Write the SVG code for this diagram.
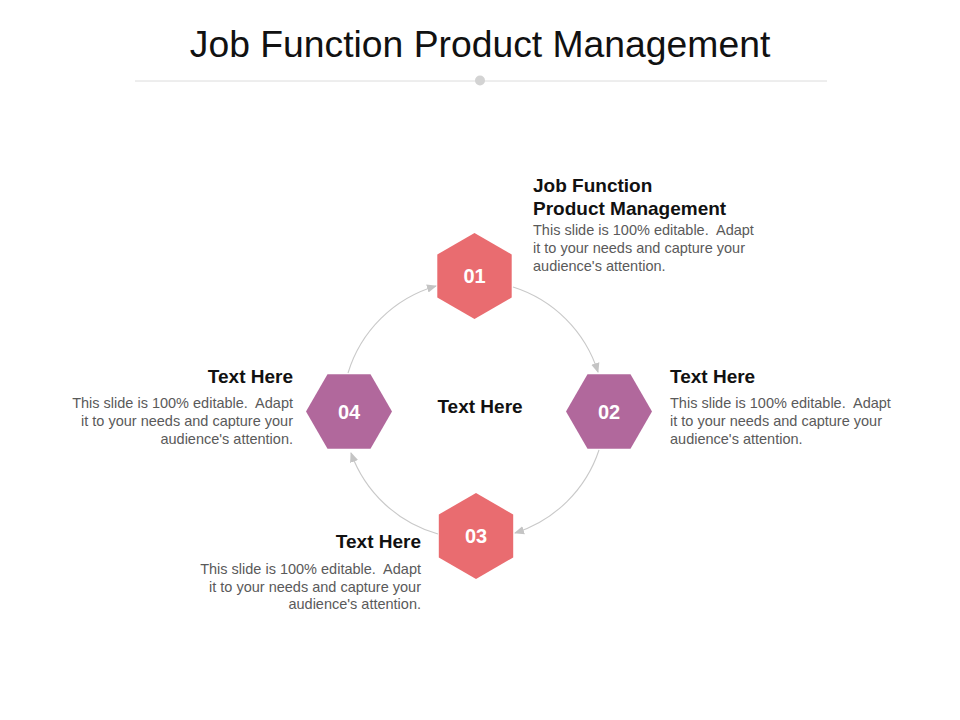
<svg xmlns="http://www.w3.org/2000/svg" width="960" height="720" viewBox="0 0 960 720">
<style>
.title{font-family:"Liberation Sans",Arial,sans-serif;font-size:37.3px;fill:#111;}
.head{font-family:"Liberation Sans",Arial,sans-serif;font-size:19px;font-weight:bold;fill:#111;}
.body{font-family:"Liberation Sans",Arial,sans-serif;font-size:14.5px;fill:#5a5a5a;}
.num{font-family:"Liberation Sans",Arial,sans-serif;font-size:20px;font-weight:bold;fill:#ffffff;text-anchor:middle;}
.coral{fill:#E96C70;}
.purple{fill:#B1689C;}
.conn{fill:none;stroke:#c9c9c9;stroke-width:1.1;marker-end:url(#arr);}
</style>
<defs>
<marker id="arr" viewBox="0 0 10 10" refX="9" refY="5" markerUnits="userSpaceOnUse" markerWidth="10" markerHeight="10" orient="auto">
<path d="M0,0.8 L10,5 L0,9.2 z" fill="#c4c4c4"/>
</marker>
</defs>
<rect width="960" height="720" fill="#ffffff"/>
<g id="header">
<text class="title" x="480" y="57" text-anchor="middle">Job Function Product Management</text>
<line x1="135" y1="81" x2="827" y2="81" stroke="#dcdcdc" stroke-width="1"/>
<circle cx="480" cy="80.5" r="5" fill="#d3d3d3"/>
</g>
<g id="connectors">
<path class="conn" d="M513,287 A130,130 0 0 1 598,372"/>
<path class="conn" d="M599,450 A130,130 0 0 1 515,533"/>
<path class="conn" d="M438,534 A130,130 0 0 1 351,453"/>
<path class="conn" d="M348,373 A130,130 0 0 1 436,286"/>
</g>
<g id="node01">
<polygon class="coral" points="474.5,233 511.7,254.5 511.7,297.5 474.5,319 437.3,297.5 437.3,254.5"/>
<text class="num" x="474.5" y="283">01</text>
</g>
<g id="node02">
<polygon class="purple" points="566,411.5 587.5,374.3 630.5,374.3 652,411.5 630.5,448.7 587.5,448.7"/>
<text class="num" x="609" y="418.5">02</text>
</g>
<g id="node03">
<polygon class="coral" points="476,493 513.2,514.5 513.2,557.5 476,579 438.8,557.5 438.8,514.5"/>
<text class="num" x="476" y="543">03</text>
</g>
<g id="node04">
<polygon class="purple" points="306,411.5 327.5,374.3 370.5,374.3 392,411.5 370.5,448.7 327.5,448.7"/>
<text class="num" x="349" y="418.5">04</text>
</g>
<g id="center">
<text class="head" x="480" y="412.5" text-anchor="middle">Text Here</text>
</g>
<g id="text01">
<text class="head" x="533" y="192">Job Function</text>
<text class="head" x="533" y="215">Product Management</text>
<text class="body" x="533" y="235">This slide is 100% editable.&#160; Adapt</text>
<text class="body" x="533" y="253">it to your needs and capture your</text>
<text class="body" x="533" y="271">audience's attention.</text>
</g>
<g id="text02">
<text class="head" x="670" y="383">Text Here</text>
<text class="body" x="670" y="408">This slide is 100% editable.&#160; Adapt</text>
<text class="body" x="670" y="426">it to your needs and capture your</text>
<text class="body" x="670" y="444">audience's attention.</text>
</g>
<g id="text04" text-anchor="end">
<text class="head" x="293" y="383">Text Here</text>
<text class="body" x="293" y="408">This slide is 100% editable.&#160; Adapt</text>
<text class="body" x="293" y="426">it to your needs and capture your</text>
<text class="body" x="293" y="444">audience's attention.</text>
</g>
<g id="text03" text-anchor="end">
<text class="head" x="421" y="548">Text Here</text>
<text class="body" x="421" y="574">This slide is 100% editable.&#160; Adapt</text>
<text class="body" x="421" y="592">it to your needs and capture your</text>
<text class="body" x="421" y="609">audience's attention.</text>
</g>
</svg>
